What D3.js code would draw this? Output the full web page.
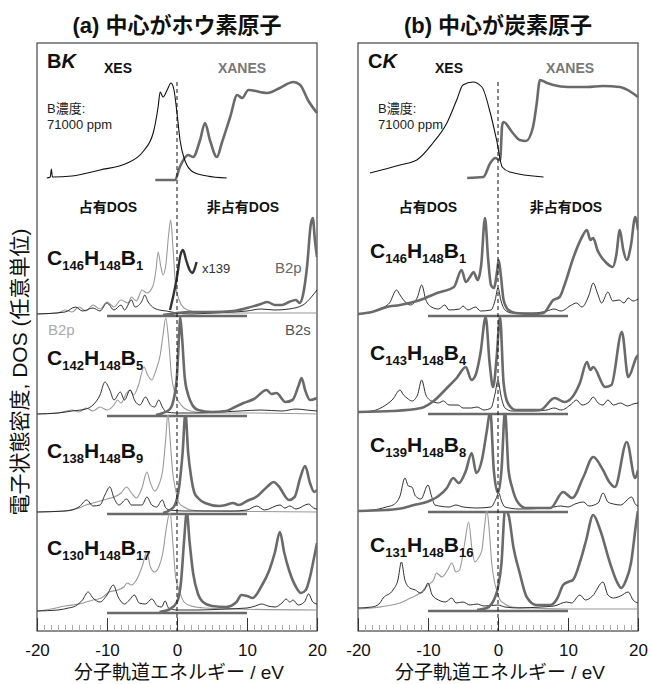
<!DOCTYPE html>
<html>
<head>
<meta charset="utf-8">
<title>BK / CK XES-XANES and DOS</title>
<script src="https://d3js.org/d3.v7.min.js"></script>
<style>
    body { margin: 0; padding: 0; background-color: #fff; }
    svg text { font-family: "Liberation Sans", "Noto Sans CJK JP", sans-serif; }
</style>
</head>
<body>
<script>

// ---- data (energy in eV, intensity in arbitrary units) ----
var panelTitles = ["(a) 中心がホウ素原子", "(b) 中心が炭素原子"];
var edgeNames = ["B", "C"];
var energyTicks = [-20, -10, 0, 10, 20];

var formulasA = [["146", "148", "1"], ["142", "148", "5"], ["138", "148", "9"], ["130", "148", "17"]];
var formulasB = [["146", "148", "1"], ["143", "148", "4"], ["139", "148", "8"], ["131", "148", "16"]];

var xesA = [[-18.6,3],[-18.1,4],[-17.95,12],[-17.8,4],[-15,5],[-11,11],[-7.1,18],[-4.9,29],[-3.4,48],[-2.7,74],[-2.4,89],[-2.0,84],[-1.4,91],[-0.86,98],[-0.43,91],[0,68],[0.43,41],[1.1,21],[2.3,9],[4.3,5],[7.1,3]];
var xanesA = [[-3.1,1],[-0.3,1],[0.4,14],[1.6,26],[2.3,24],[3.3,41],[4.0,58],[4.7,41],[5.7,24],[6.4,38],[7.6,64],[8.6,86],[9.3,83],[10.2,91],[12.9,88],[14.7,93],[16.6,99],[17.6,96],[18.7,81],[20,68]];
var xesB = [[-18.3,8],[-14,16],[-11.6,21],[-9.3,38],[-7.3,58],[-5.9,81],[-5,96],[-3.6,99],[-2.3,94],[-1.1,68],[-0.2,41],[0.6,14],[1.7,9],[6.5,4]];
var xanesB = [[-4.4,3],[-2.1,4],[-1.1,18],[-0.4,23],[0.3,21],[0.6,56],[0.8,59],[2,49],[3.1,41],[4,40],[5,54],[5.5,76],[6,101],[7,98],[7.9,96],[10,94],[12.7,94],[15,95],[17.4,94],[19,89],[20,84]];

// panel (a): B-centred
var a1Light = [[-20,1],[-17,2],[-16,5],[-15,3],[-14,8],[-13,4],[-12,10],[-11,6],[-10,13],[-9,8],[-8,15],[-7,12],[-6.5,18],[-5.8,14],[-5,25],[-4.3,22],[-3.5,28],[-3.0,45],[-2.7,63],[-2.3,48],[-2.0,40],[-1.6,50],[-1.2,80],[-0.9,95],[-0.6,70],[-0.2,30],[0.3,15],[1,7],[2,4],[4,2],[10,2],[20,2]];
var a1Dark = [[-20,1],[-16,3],[-14.5,8],[-13.5,4],[-12,7],[-11,4],[-10,12],[-9,5],[-8,10],[-7.5,5],[-6.5,15],[-6,8],[-5,14],[-4.6,20],[-4.2,14],[-3.5,8],[-2.5,5],[-1.5,4],[0,2],[2,1],[5,2],[8,3],[10,4],[12,6],[14,5],[16,6],[18,10],[19.2,18],[20,25]];
var a1Thick = [[-2,0],[-1,1],[0,2],[2,3],[5,3],[8,4],[10,7],[12,11],[12.9,13],[14,10],[15,10],[16,13],[17,15],[17.5,12],[18,20],[18.6,50],[19.1,90],[19.4,97],[19.7,75],[20,58]];
var a1Scaled = [[-1.0,5],[-0.5,20],[0,38],[0.5,60],[0.86,65],[1.3,55],[1.8,45],[2.2,42],[2.6,48],[2.8,53]];
var a2Light = [[-20,1],[-17,2],[-15,5],[-14,3],[-13,7],[-12,4],[-11,8],[-10,5],[-9,10],[-8.5,15],[-8,12],[-7.2,22],[-6.7,25],[-6.2,20],[-5.5,30],[-4.7,48],[-4.2,40],[-3.6,35],[-3,45],[-2.4,60],[-2,80],[-1.6,97],[-1.2,75],[-0.8,40],[-0.3,22],[0.2,14],[1,7],[2,4],[4,2],[10,2],[20,1]];
var a2Dark = [[-20,1],[-17,2],[-15,4],[-13,6],[-12,10],[-11,20],[-10.3,33],[-9.6,25],[-9,15],[-8.1,23],[-7.5,15],[-6.7,25],[-6,14],[-5.3,10],[-4.5,18],[-3.8,10],[-3.2,8],[-2.6,15],[-2.1,8],[-1.5,3],[0,2],[3,2],[6,3],[9,4],[12,5],[15,4],[17,6],[18.5,5],[20,4]];
var a2Thick = [[-3,0],[-2,2],[-1,6],[-0.5,15],[0,40],[0.3,80],[0.45,98],[0.7,80],[1.1,38],[1.6,20],[2.2,10],[3,5],[5,3],[7,4],[8.3,8],[9.5,12],[11,16],[12.8,25],[13.5,21],[14.2,22],[15.5,13],[16.5,15],[17.4,30],[17.8,37],[18.3,25],[19,15],[20,17]];
var a3Light = [[-20,1],[-16,2],[-14,5],[-13,8],[-12,10],[-11,12],[-10,14],[-9,16],[-8,20],[-7.2,26],[-6.5,20],[-5.8,15],[-5,25],[-4.3,41],[-3.8,30],[-3.2,22],[-2.6,28],[-2.0,45],[-1.6,75],[-1.3,100],[-1.0,75],[-0.6,40],[-0.2,23],[0.3,10],[1,6],[2,3],[4,2],[20,1]];
var a3Dark = [[-20,1],[-16,2],[-14,6],[-12.9,13],[-12,7],[-11,8],[-10.3,18],[-9.6,26],[-9,15],[-8.3,8],[-7.2,14],[-6.5,8],[-5,8],[-4.3,16],[-3.6,8],[-2.9,6],[-2.1,13],[-1.6,5],[-1,3],[1,2],[5,2],[8,2],[10,3],[11.4,7],[12.5,3],[14.7,8],[15.4,5],[16.1,7],[17,4],[18.8,9],[19.5,5],[20,4]];
var a3Thick = [[-2,0],[-1,3],[-0.3,8],[0.3,26],[0.8,60],[1.2,100],[1.6,60],[2,37],[2.5,20],[3,15],[4,10],[6,7],[7,8],[8,10],[8.8,8],[10,12],[11.5,17],[13,27],[13.8,31],[14.5,27],[16,13],[16.8,16],[17.6,35],[18.3,47],[19,30],[19.6,21],[20,23]];
var a4Light = [[-20,1],[-18,3],[-16,6],[-14,8],[-12,12],[-10.8,14],[-9.7,20],[-8.5,22],[-7.6,25],[-7.1,29],[-6.5,27],[-5.8,32],[-5,45],[-4.3,60],[-3.8,45],[-3.2,40],[-2.6,45],[-2,60],[-1.5,85],[-1.0,100],[-0.6,70],[-0.2,35],[0.4,20],[1,10],[2,6],[4,4],[8,3],[20,2]];
var a4Dark = [[-20,1],[-17,2],[-15.5,4],[-14.5,6],[-13.5,12],[-12.7,20],[-12,14],[-11,10],[-10,17],[-9.1,27],[-8.4,15],[-7.5,8],[-6.8,12],[-6.1,17],[-5.4,9],[-4.5,8],[-3.6,13],[-2.8,6],[-2.2,5],[-1.7,11],[-1.2,4],[0,2],[3,2],[7,3],[10,4],[11.2,6],[12.1,8],[13,6],[14,5],[15,9],[15.6,13],[16.1,10],[16.6,12],[17.3,7],[18.2,10],[18.8,18],[19.4,10],[20,8]];
var a4Thick = [[-2.5,0],[-1,3],[0,10],[0.6,32],[1.0,70],[1.4,100],[1.8,70],[2.3,39],[3,18],[3.7,10],[5,6],[7,5],[8.5,10],[9.2,17],[10,16],[10.8,14],[12,25],[13.2,42],[14,60],[14.7,80],[15.3,60],[16,42],[17,25],[17.7,19],[18.4,22],[19,35],[19.6,55],[20,69]];

// panel (b): C-centred
var b1Dark = [[-20,1],[-18.5,2],[-17,6],[-15.5,12],[-14.5,25],[-14,20],[-13.5,15],[-12.5,10],[-11.5,18],[-10.9,30],[-10.3,15],[-9.5,8],[-8.5,6],[-7.6,10],[-7,5],[-5.5,6],[-5,9],[-4.3,5],[-3.2,8],[-2.5,4],[-1,5],[-0.4,15],[0,27],[0.4,15],[1,5],[2,2],[5,2],[7,4],[8,6],[9,4],[10.5,10],[11.2,12],[12,8],[13,20],[13.6,32],[14.2,22],[14.8,12],[15.7,23],[16.4,14],[17.3,15],[18,12],[18.6,17],[19.3,14],[20,16]];
var b1Thick = [[-20,1],[-18,3],[-15.9,8],[-14,10],[-11.1,15],[-8.7,22],[-6.3,28],[-5.2,45],[-4.6,33],[-4,38],[-3.5,43],[-2.9,35],[-2.4,50],[-1.86,97],[-1.4,55],[-1,30],[-0.6,27],[-0.1,45],[0.1,55],[0.4,40],[0.8,15],[1.5,5],[2.5,2],[5,1],[6.5,2],[7.9,15],[8.8,18],[9.5,30],[10.8,58],[12,78],[12.7,85],[13.2,75],[13.6,77],[14.2,65],[15.5,52],[16.4,48],[16.9,60],[17.4,85],[17.9,65],[18.4,55],[19,70],[19.6,98],[20,85]];
var b2Dark = [[-20,1],[-18,2],[-16.5,6],[-15,14],[-14,23],[-13.5,18],[-13,15],[-12.3,12],[-11.5,18],[-10.9,33],[-10.3,18],[-9.5,12],[-8.5,10],[-7.8,12],[-7,8],[-5.7,8],[-5,5],[-3.8,5],[-3,6],[-2,3],[-1,5],[-0.4,20],[0,33],[0.4,18],[1,5],[2,2],[5,2],[7,3],[8,5],[9,3],[10.5,9],[11.2,13],[12,8],[13,11],[13.6,16],[14.3,10],[15,8],[15.7,13],[16.5,8],[17.5,10],[18.5,7],[19.3,9],[20,10]];
var b2Thick = [[-20,1],[-15,2],[-11,5],[-9.2,12],[-7.3,25],[-5.9,35],[-4.6,46],[-3.8,33],[-3.2,38],[-2.5,60],[-1.76,96],[-1.2,50],[-0.7,26],[-0.2,55],[0.29,96],[0.8,30],[1.4,10],[2.5,3],[6,3],[8.1,15],[9.5,11],[11.7,30],[12.7,51],[13.2,43],[13.6,46],[15.3,26],[16.2,28],[17.7,81],[18.6,36],[19.8,56],[20,58]];
var b3Dark = [[-20,0],[-17,2],[-16,4],[-15,6],[-14,15],[-13.3,33],[-12.8,25],[-12.3,24],[-11.8,15],[-11,12],[-10,26],[-9.5,15],[-9,6],[-7,4],[-6,6],[-5,4],[-3,3],[-1,4],[-0.3,12],[0.1,18],[0.5,10],[1,4],[3,2],[7,3],[9,5],[10,4],[11,7],[12.2,9],[13,5],[14.3,8],[15,18],[15.7,9],[16.5,7],[17.5,6],[19.1,14],[19.6,7],[20,5]];
var b3Thick = [[-20,0],[-16,1],[-13.5,3],[-12,6],[-10.2,9],[-8.5,15],[-7.3,23],[-6.4,33],[-5.6,28],[-4.6,40],[-3.76,58],[-3.1,38],[-2.3,51],[-1.6,80],[-1.1,100],[-0.6,41],[0,18],[0.5,41],[1.0,100],[1.5,41],[2.0,24],[2.9,8],[4,3],[7.5,3],[9.3,19],[10.6,13],[12.2,34],[13.6,54],[15.0,41],[15.9,29],[16.7,24],[18.4,69],[19.6,33],[20,41]];
var b4Light = [[-20,1],[-18,2],[-16,4],[-14,7],[-12.5,12],[-11.1,17],[-10,25],[-9.2,30],[-8.8,37],[-8,33],[-7.2,40],[-6.6,47],[-6.0,38],[-5.5,40],[-4.8,65],[-4.2,88],[-3.7,60],[-3.3,48],[-2.8,52],[-2.3,60],[-1.9,85],[-1.6,100],[-1.2,75],[-0.9,47],[-0.5,28],[-0.2,20],[0.3,10],[1,6],[2,3],[5,2],[10,1],[20,1]];
var b4Dark = [[-20,2],[-18,3],[-17,6],[-16.4,12],[-15,20],[-14.3,30],[-13.8,48],[-13.3,30],[-12.6,22],[-11.8,20],[-11.1,17],[-10.5,20],[-10,27],[-9.4,15],[-8.5,10],[-7.5,8],[-6.6,12],[-6,7],[-5,8],[-4,5],[-3,6],[-2,4],[0,5],[1,3],[3,2],[6,3],[8,4],[9.8,8],[10.5,7],[11.7,15],[12.5,10],[13.5,14],[15,28],[15.7,15],[16.5,12],[17.5,14],[18.6,18],[19.3,10],[20,7]];
var b4Thick = [[-3,0],[-1.6,2],[-0.4,13],[0.5,47],[1.0,100],[1.5,95],[2.2,63],[3.1,37],[4.1,13],[5.5,5],[7.5,5],[8.5,12],[9.3,25],[10,28],[10.7,30],[11.8,50],[12.6,70],[13.6,95],[14.6,80],[16,47],[17,28],[17.6,22],[18.3,30],[19,47],[19.7,85],[20,100]];

// ---- layout ----
var width = 649, height = 684;
var frameTop = 43, frameBottom = 631, frameW = 280;
var font = "'Liberation Sans', 'Noto Sans CJK JP', sans-serif";

var svg = d3.select("body").append("svg")
    .attr("width", width)
    .attr("height", height);

var panels = [
    {left: 37, title: panelTitles[0], edge: edgeNames[0], xes: xesA, xanes: xanesA,
     xesX: 81, xanesX: 205, concX: 10, occX: 71, unoccX: 206,
     baselines: [315, 415, 513, 612], formulaY: [265, 365, 458, 555], formulas: formulasA,
     blocks: [
        {light: a1Light, dark: a1Dark, thick: a1Thick, scaled: a1Scaled},
        {light: a2Light, dark: a2Dark, thick: a2Thick},
        {light: a3Light, dark: a3Dark, thick: a3Thick},
        {light: a4Light, dark: a4Dark, thick: a4Thick}]},
    {left: 358, title: panelTitles[1], edge: edgeNames[1], xes: xesB, xanes: xanesB,
     xesX: 91, xanesX: 212, concX: 20, occX: 70, unoccX: 208,
     baselines: [315, 413, 511, 610], formulaY: [258, 360, 452, 552], formulas: formulasB,
     blocks: [
        {dark: b1Dark, thick: b1Thick},
        {dark: b2Dark, thick: b2Thick},
        {dark: b3Dark, thick: b3Thick},
        {light: b4Light, dark: b4Dark, thick: b4Thick}]}
];

var thickColor = "#6a6a6a", lightColor = "#9a9a9a", darkColor = "#1a1a1a";

panels.forEach(function(p, pi) {
    var g = svg.append("g");
    var x = d3.scaleLinear().domain([-20, 20]).range([p.left, p.left + frameW]);

    // title
    g.append("text")
        .text(p.title)
        .attr("x", p.left + frameW / 2)
        .attr("y", 33)
        .attr("text-anchor", "middle")
        .style("font-size", "22px")
        .style("font-weight", "bold")
        .attr("fill", "#111");

    // frame
    g.append("rect")
        .attr("x", p.left).attr("y", frameTop)
        .attr("width", frameW).attr("height", frameBottom - frameTop)
        .attr("fill", "none")
        .attr("stroke", "#444")
        .attr("stroke-width", 1.2);

    // minor and major ticks along the bottom
    var minor = d3.range(-19, 20).filter(function(d) { return d % 10 != 0; });
    g.append("g")
        .attr("transform", "translate(0," + frameBottom + ")")
        .call(d3.axisBottom(x).tickValues(minor).tickSize(-6).tickFormat(""))
        .call(function(a) {
            a.select(".domain").remove();
            a.selectAll("line").attr("stroke", "#aaa");
        });
    g.append("g")
        .attr("transform", "translate(0," + frameBottom + ")")
        .call(d3.axisBottom(x).tickValues(energyTicks).tickSize(-13).tickPadding(13)
            .tickFormat(function(d) { return String(d); }))
        .call(function(a) {
            a.select(".domain").remove();
            a.selectAll("line").attr("stroke", "#333");
            a.selectAll("text").style("font-size", "17px").style("font-family", font).attr("fill", "#111");
        });

    g.append("text")
        .text("分子軌道エネルギー / eV")
        .attr("x", p.left + frameW / 2 + 2)
        .attr("y", 679)
        .attr("text-anchor", "middle")
        .style("font-size", "19px")
        .attr("fill", "#111");

    // top spectra
    var yTop = d3.scaleLinear().domain([0, 100]).range([181, 81]);
    var topLine = d3.line()
        .x(function(d) { return x(d[0]); })
        .y(function(d) { return yTop(d[1]); })
        .curve(d3.curveMonotoneX);

    g.append("path").datum(p.xanes)
        .attr("d", topLine)
        .attr("fill", "none").attr("stroke", thickColor).attr("stroke-width", 2.6);
    g.append("path").datum(p.xes)
        .attr("d", topLine)
        .attr("fill", "none").attr("stroke", "#111").attr("stroke-width", 1.1);

    var edge = g.append("text")
        .attr("x", p.left + 10).attr("y", 68)
        .style("font-size", "20px").style("font-weight", "bold").attr("fill", "#111");
    edge.append("tspan").text(p.edge);
    edge.append("tspan").text("K").style("font-style", "italic");

    g.append("text").text("XES")
        .attr("x", p.left + p.xesX).attr("y", 73).attr("text-anchor", "middle")
        .style("font-size", "14px").style("font-weight", "bold").attr("fill", "#111");
    g.append("text").text("XANES")
        .attr("x", p.left + p.xanesX).attr("y", 73).attr("text-anchor", "middle")
        .style("font-size", "14px").style("font-weight", "bold").attr("fill", "#777");

    g.append("text").text("B濃度:")
        .attr("x", p.left + p.concX).attr("y", 113)
        .style("font-size", "13px").attr("fill", "#222");
    g.append("text").text("71000 ppm")
        .attr("x", p.left + p.concX).attr("y", 129)
        .style("font-size", "13px").attr("fill", "#222");

    g.append("text").text("占有DOS")
        .attr("x", p.left + p.occX).attr("y", 212).attr("text-anchor", "middle")
        .style("font-size", "14px").style("font-weight", "bold").attr("fill", "#111");
    g.append("text").text("非占有DOS")
        .attr("x", p.left + p.unoccX).attr("y", 212).attr("text-anchor", "middle")
        .style("font-size", "14px").style("font-weight", "bold").attr("fill", "#111");

    // DOS blocks
    p.blocks.forEach(function(b, bi) {
        var base = p.baselines[bi];
        var topLimit = bi == 0 ? 195 : p.baselines[bi - 1];
        var y = d3.scaleLinear().domain([0, 100]).range([base, base - 100]);
        var line = d3.line()
            .x(function(d) { return x(d[0]); })
            .y(function(d) { return y(d[1]); })
            .curve(d3.curveMonotoneX);

        var clipId = "clip" + pi + bi;
        svg.append("clipPath").attr("id", clipId)
            .append("rect")
            .attr("x", p.left).attr("y", topLimit)
            .attr("width", frameW).attr("height", base - topLimit + 3);

        var bg = g.append("g").attr("clip-path", "url(#" + clipId + ")");

        if (b.light) {
            bg.append("path").datum(b.light).attr("d", line)
                .attr("fill", "none").attr("stroke", lightColor).attr("stroke-width", 1.1);
        }
        bg.append("path").datum(b.dark).attr("d", line)
            .attr("fill", "none").attr("stroke", darkColor).attr("stroke-width", 0.9);

        // gray bar -10 .. 10 eV
        bg.append("line")
            .attr("x1", x(-10)).attr("x2", x(10))
            .attr("y1", y(0) + 1).attr("y2", y(0) + 1)
            .attr("stroke", thickColor).attr("stroke-width", 2.6);

        bg.append("path").datum(b.thick).attr("d", line)
            .attr("fill", "none").attr("stroke", thickColor).attr("stroke-width", 2.6);

        if (b.scaled) {
            bg.append("path").datum(b.scaled).attr("d", line)
                .attr("fill", "none").attr("stroke", "#333").attr("stroke-width", 2.4);
        }

        // formula with subscripts
        var f = p.formulas[bi];
        var t = g.append("text")
            .attr("x", p.left + (pi == 0 ? 10 : 12)).attr("y", p.formulaY[bi])
            .style("font-size", "21px").style("font-weight", "bold").attr("fill", "#111");
        ["C", "H", "B"].forEach(function(el, k) {
            t.append("tspan").text(el).attr("dy", k == 0 ? 0 : -5).style("font-size", "21px");
            t.append("tspan").text(f[k]).attr("dy", 5).style("font-size", "13px");
        });
    });

    // dashed Fermi level line
    g.append("line")
        .attr("x1", x(0)).attr("x2", x(0))
        .attr("y1", 82).attr("y2", frameBottom)
        .attr("stroke", "#111").attr("stroke-width", 1)
        .attr("stroke-dasharray", "4,3");

    if (pi == 0) {
        g.append("text").text("x139")
            .attr("x", 202).attr("y", 273)
            .style("font-size", "13px").attr("fill", "#333");
        g.append("text").text("B2p")
            .attr("x", 275).attr("y", 273)
            .style("font-size", "15px").attr("fill", "#666");
        g.append("text").text("B2p")
            .attr("x", 48).attr("y", 335)
            .style("font-size", "15px").attr("fill", "#aaa");
        g.append("text").text("B2s")
            .attr("x", 285).attr("y", 335)
            .style("font-size", "15px").attr("fill", "#555");
    }
});

// y axis title
svg.append("text")
    .text("電子状態密度, DOS (任意単位)")
    .attr("transform", "translate(27,372) rotate(-90)")
    .attr("text-anchor", "middle")
    .style("font-size", "21px")
    .attr("fill", "#111");

</script>
</body>
</html>
